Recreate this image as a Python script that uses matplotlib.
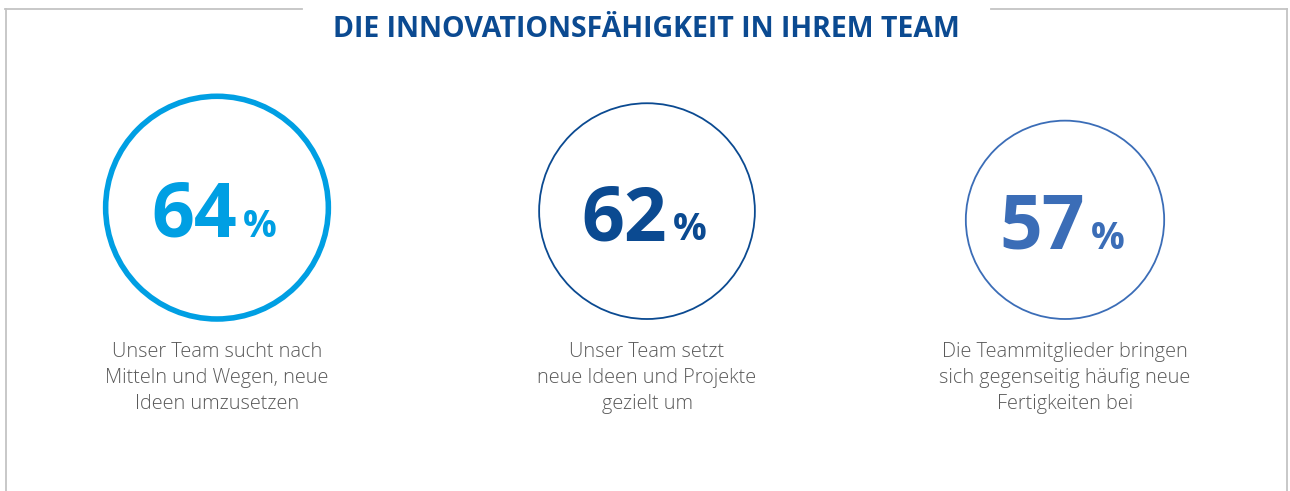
import matplotlib.pyplot as plt
from matplotlib.patches import Circle

title = "DIE INNOVATIONSFÄHIGKEIT IN IHREM TEAM"
values = [64, 62, 57]
captions = [
    "Unser Team sucht nach\nMitteln und Wegen, neue\nIdeen umzusetzen",
    "Unser Team setzt\nneue Ideen und Projekte\ngezielt um",
    "Die Teammitglieder bringen\nsich gegenseitig häufig neue\nFertigkeiten bei",
]
colors = ["#009fe3", "#0b4a91", "#3b6db7"]
ring_widths = [4.0, 1.3, 1.3]
centers_x = [217, 647, 1065]

fig = plt.figure(figsize=(12.9, 4.91), dpi=100)
ax = fig.add_axes([0, 0, 1, 1])
ax.set_xlim(0, 1290)
ax.set_ylim(491, 0)
ax.set_aspect("equal")
ax.axis("off")

# frame with gap for the title
grey = "#c4c4c4"
ax.plot([5, 302], [8.5, 8.5], color=grey, lw=1.3)
ax.plot([991, 1287], [8.5, 8.5], color=grey, lw=1.3)
ax.plot([5.5, 5.5], [8.5, 491], color=grey, lw=1.3)
ax.plot([1286.5, 1286.5], [8.5, 491], color=grey, lw=1.3)

ax.text(646, 29, title, ha="center", va="center", fontsize=20.5,
        fontweight="bold", family="Open Sans", color="#0b4a91")

bottom = 319
scale = 1.74  # circle radius per percentage point
for cx, v, cap, col, lw in zip(centers_x, values, captions, colors, ring_widths):
    r = v * scale
    cy = bottom - r
    ax.text(cx + 20, cy + 29, str(v), ha="right", va="baseline",
            fontsize=54, fontweight="bold", family="Open Sans", color=col)
    ax.text(cx + 26, cy + 29, "%", ha="left", va="baseline",
            fontsize=27, fontweight="bold", family="Open Sans", color=col)
    ax.add_patch(Circle((cx, cy), r, fill=False, ec=col, lw=lw))
    ax.text(cx, 342, cap, ha="center", va="top", fontsize=14.3,
            family="Open Sans", fontweight="light", color="#5a5a5a",
            linespacing=1.4)

fig.savefig("out.png", dpi=100)
